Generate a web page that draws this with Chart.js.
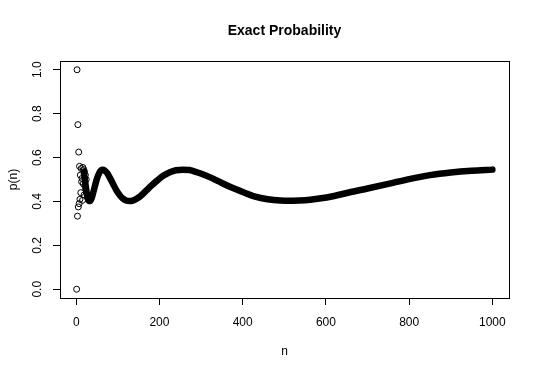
<!DOCTYPE html>
<html>
<head>
<meta charset="utf-8">
<script src="https://cdn.jsdelivr.net/npm/chart.js@4.4.1/dist/chart.umd.min.js"></script>
<style>
    html, body { margin: 0; padding: 0; background: #ffffff; }
    canvas { display: block; }
</style>
</head>
<body>
<canvas id="probChart" width="540" height="374"></canvas>
<script>

/* =========================
   DATA
========================= */

// first values of n, drawn as single open circles
const earlyN = [
    1, 2, 3, 4, 5, 6, 7, 8, 9, 10, 11, 12,
    13, 14, 15, 16, 17, 18, 19, 20, 21, 22, 23, 24
];

const earlyP = [
    0.000, 1.000, 0.333, 0.750, 0.375, 0.625, 0.390, 0.560, 0.410, 0.520, 0.440, 0.550,
    0.490, 0.505, 0.405, 0.555, 0.480, 0.545, 0.430, 0.535, 0.470, 0.520, 0.455, 0.500
];

// the dense part
const curveN = [
    18, 20, 22, 25, 28, 31, 34, 37, 40, 44, 48, 52, 56, 60, 64, 68, 74, 80,
    88, 96, 104, 112, 120, 128, 136, 146, 156, 168, 180, 195, 210, 225, 240,
    256, 272, 290, 310, 330, 350, 375, 400, 430, 460, 490, 520, 550, 580,
    620, 660, 700, 750, 800, 850, 900, 950, 1000
];

const curveP = [
    0.535, 0.511, 0.482, 0.441, 0.413, 0.402, 0.403, 0.415, 0.434, 0.463, 0.492, 0.515, 0.532, 0.542, 0.545, 0.542, 0.530, 0.511,
    0.482, 0.453, 0.430, 0.413, 0.404, 0.402, 0.404, 0.413, 0.427, 0.449, 0.471, 0.496, 0.518, 0.533, 0.542,
    0.545, 0.543, 0.533, 0.519, 0.503, 0.484, 0.462, 0.443, 0.422, 0.410, 0.404, 0.403, 0.405, 0.412,
    0.425, 0.443, 0.459, 0.480, 0.502, 0.520, 0.532, 0.540, 0.545
];

const xTicks = [0, 200, 400, 600, 800, 1000];

const yTicks = [0, 0.2, 0.4, 0.6, 0.8, 1.0];

const yTickLabels = ["0.0", "0.2", "0.4", "0.6", "0.8", "1.0"];

const FONT = "'Liberation Sans', Arial, sans-serif";

/* =========================
   R STYLE FRAME + TEXT
========================= */

const rFrame = {

    id: "rFrame",

    afterDraw(chart) {

        const ctx = chart.ctx;
        const area = chart.chartArea;
        const yScale = chart.scales.y;

        ctx.save();

        // box
        ctx.strokeStyle = "#000";
        ctx.lineWidth = 1;
        ctx.strokeRect(
            Math.round(area.left) + 0.5,
            Math.round(area.top) + 0.5,
            Math.round(area.right - area.left),
            Math.round(area.bottom - area.top)
        );

        ctx.fillStyle = "#000";

        // rotated y tick labels
        ctx.font = "12px " + FONT;
        ctx.textAlign = "center";
        ctx.textBaseline = "middle";

        yTicks.forEach((v, i) => {

            const py = yScale.getPixelForValue(v);

            ctx.save();
            ctx.translate(38, py);
            ctx.rotate(-Math.PI / 2);
            ctx.fillText(yTickLabels[i], 0, 0);
            ctx.restore();

        });

        // axis titles
        ctx.fillText("n", (area.left + area.right) / 2, 352);

        ctx.save();
        ctx.translate(14, (area.top + area.bottom) / 2);
        ctx.rotate(-Math.PI / 2);
        ctx.fillText("p(n)", 0, 0);
        ctx.restore();

        // main title
        ctx.font = "bold 14px " + FONT;
        ctx.fillText("Exact Probability", (area.left + area.right) / 2, 31);

        ctx.restore();

    }

};

/* =========================
   CHART
========================= */

function renderProbabilityChart() {

    const ctx = document.getElementById("probChart");

    new Chart(ctx, {

        type: "scatter",

        data: {

            datasets: [

                {
                    label: "curve",
                    data: curveN.map((n, i) => ({ x: n, y: curveP[i] })),
                    showLine: true,
                    borderColor: "#000",
                    borderWidth: 6.5,
                    borderCapStyle: "round",
                    borderJoinStyle: "round",
                    cubicInterpolationMode: "monotone",
                    pointRadius: 0,
                    pointHoverRadius: 0
                },

                {
                    label: "early",
                    data: earlyN.map((n, i) => ({ x: n, y: earlyP[i] })),
                    showLine: false,
                    pointStyle: "circle",
                    pointRadius: 3,
                    pointBorderWidth: 1,
                    pointBorderColor: "#000",
                    pointBackgroundColor: "rgba(0,0,0,0)"
                }

            ]

        },

        options: {

            responsive: false,
            animation: false,
            events: [],

            layout: {
                padding: { top: 61, right: 31, left: 0, bottom: 0 }
            },

            plugins: {
                legend: { display: false },
                tooltip: { enabled: false },
                title: { display: false }
            },

            scales: {

                x: {
                    type: "linear",
                    min: -38.96,
                    max: 1039.96,
                    afterBuildTicks: scale => {
                        scale.ticks = xTicks.map(v => ({ value: v }));
                    },
                    afterFit: scale => {
                        scale.height = 76;
                    },
                    ticks: {
                        color: "#000",
                        padding: 10,
                        maxRotation: 0,
                        font: { family: FONT, size: 12 },
                        callback: v => String(v)
                    },
                    grid: {
                        drawOnChartArea: false,
                        drawTicks: true,
                        tickLength: 7,
                        color: "#000",
                        tickColor: "#000"
                    },
                    border: { display: false }
                },

                y: {
                    type: "linear",
                    min: -0.04,
                    max: 1.04,
                    afterBuildTicks: scale => {
                        scale.ticks = yTicks.map(v => ({ value: v }));
                    },
                    afterFit: scale => {
                        scale.width = 60;
                    },
                    ticks: { display: false },
                    grid: {
                        drawOnChartArea: false,
                        drawTicks: true,
                        tickLength: 7,
                        color: "#000",
                        tickColor: "#000"
                    },
                    border: { display: false }
                }

            }

        },

        plugins: [rFrame]

    });

}

renderProbabilityChart();

</script>
</body>
</html>
